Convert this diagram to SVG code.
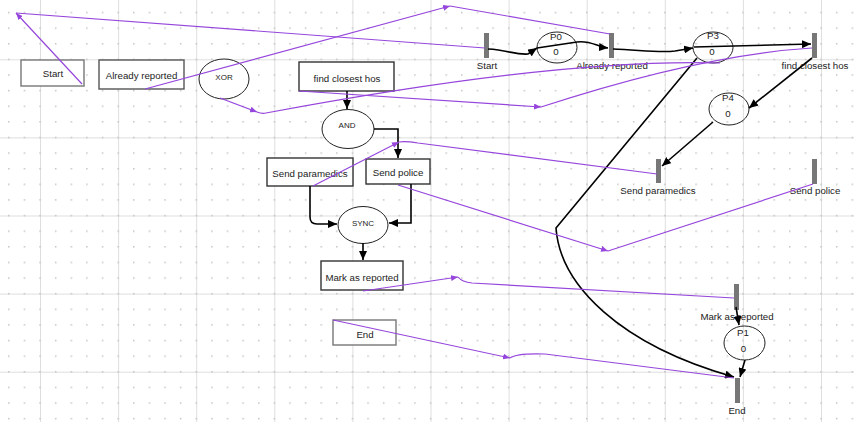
<svg xmlns="http://www.w3.org/2000/svg" width="854" height="422" viewBox="0 0 854 422">
<defs>
<pattern id="dots" patternUnits="userSpaceOnUse" x="39.3" y="58.6" width="15.62" height="15.62">
<rect x="0" y="0" width="1.5" height="1.5" fill="#c4c4c4"/>
</pattern>
<pattern id="lines" patternUnits="userSpaceOnUse" x="40" y="59.3" width="78.1" height="78.1">
<path d="M0.5,0 V78.1 M0,0.5 H78.1" stroke="#dedede" stroke-width="1" fill="none"/>
</pattern>
<marker id="ab" markerUnits="userSpaceOnUse" markerWidth="10" markerHeight="8" refX="9" refY="4" orient="auto">
<path d="M0,0 L9,4 L0,8 Z" fill="#000"/>
</marker>
<marker id="ap" markerUnits="userSpaceOnUse" markerWidth="8" markerHeight="6" refX="7" refY="3" orient="auto">
<path d="M0,0 L7,3 L0,6 Z" fill="#9646dc"/>
</marker>
<style>
text{font-family:"Liberation Sans",Arial,sans-serif;font-size:9.7px;fill:#222;text-anchor:middle}
.g{font-size:8px}
.box{fill:#fff;stroke:#333;stroke-width:1.4}
.lt{stroke:#777}
.pl{fill:none;stroke:#222;stroke-width:1}
.gate{fill:#fff;stroke:#222;stroke-width:1}
.tr{fill:#777}
.blk{fill:none;stroke:#000;stroke-width:1.6}
.pur{fill:none;stroke:#9646dc;stroke-width:1.2}
</style>
</defs>
<rect width="854" height="422" fill="#fff"/>
<rect width="854" height="422" fill="url(#lines)"/>
<rect width="854" height="422" fill="url(#dots)"/>

<g id="wf-start"><rect class="box lt" x="21" y="60" width="63" height="26"/><text x="53" y="77">Start</text></g>
<g id="wf-already"><rect class="box" x="99" y="60" width="85" height="29" style="stroke:#555"/><text x="141.5" y="79">Already reported</text></g>
<g id="wf-xor"><ellipse class="gate" cx="224" cy="79" rx="25" ry="20"/><text class="g" x="224" y="80">XOR</text></g>
<g id="wf-find"><rect class="box" x="299" y="62" width="95" height="29"/><text x="347" y="81.5">find closest hos</text></g>
<g id="wf-and"><ellipse class="gate" cx="348" cy="129" rx="26" ry="19.5"/><text class="g" x="347" y="128">AND</text></g>
<g id="wf-paramedics"><rect class="box" x="267" y="158" width="86" height="28"/><text x="310" y="176.5">Send paramedics</text></g>
<g id="wf-police"><rect class="box" x="366" y="159" width="64" height="25"/><text x="398" y="176">Send police</text></g>
<g id="wf-sync"><ellipse class="gate" cx="363" cy="225" rx="25" ry="18.5"/><text class="g" x="363" y="226">SYNC</text></g>
<g id="wf-mark"><rect class="box" x="321" y="261" width="82" height="29"/><text x="362" y="280.5">Mark as reported</text></g>
<g id="wf-end"><rect class="box lt" x="333" y="320" width="63" height="25"/><text x="365" y="337.5">End</text></g>

<g id="pn-t-start"><rect class="tr" x="484" y="33" width="5" height="25"/><text x="487" y="69">Start</text></g>
<g id="pn-p0"><ellipse class="pl" cx="557" cy="47.5" rx="20" ry="15.5"/><text x="556" y="39.5">P0</text><text x="556" y="55">0</text></g>
<g id="pn-t-already"><rect class="tr" x="609" y="33" width="5" height="25"/><text x="612" y="69">Already reported</text></g>
<g id="pn-p3"><ellipse class="pl" cx="713" cy="47.5" rx="20" ry="15.5"/><text x="713" y="38.5">P3</text><text x="712" y="55">0</text></g>
<g id="pn-t-find"><rect class="tr" x="812" y="33" width="5" height="25"/><text x="815" y="69">find closest hos</text></g>
<g id="pn-p4"><ellipse class="pl" cx="729" cy="109" rx="20" ry="16"/><text x="728" y="100.5">P4</text><text x="728" y="116.5">0</text></g>
<g id="pn-t-paramedics"><rect class="tr" x="656" y="159" width="5" height="24"/><text x="658" y="194">Send paramedics</text></g>
<g id="pn-t-police"><rect class="tr" x="812" y="159" width="5" height="25"/><text x="815" y="194">Send police</text></g>
<g id="pn-t-mark"><rect class="tr" x="734" y="284" width="5" height="26"/><text x="737" y="319.5">Mark as reported</text></g>
<g id="pn-p1"><ellipse class="pl" cx="744.5" cy="343" rx="20.5" ry="17"/><text x="743" y="336">P1</text><text x="743.5" y="351.5">0</text></g>
<g id="pn-t-end"><rect class="tr" x="735" y="378" width="5" height="25"/><text x="737" y="413.5">End</text></g>

<g id="connectors">
<path class="blk" d="M347,91 L347,109" marker-end="url(#ab)"/>
<path class="blk" d="M374,129 L398,129 L398,158" marker-end="url(#ab)"/>
<path class="blk" d="M310,186 L310,217 Q310,224 317,224 L337,224" marker-end="url(#ab)"/>
<path class="blk" d="M411,184 L411,223 L389,223" marker-end="url(#ab)"/>
<path class="blk" d="M363,243 L363,260" marker-end="url(#ab)"/>

<path class="blk" d="M488,49 C508,50 515,55 528,54 L537,48" marker-end="url(#ab)"/>
<path class="blk" d="M537,48 L577,42 C590,40 598,47 608,48" marker-end="url(#ab)"/>
<path class="blk" d="M613,49 C640,50 660,53 675,51 L693,48" marker-end="url(#ab)"/>
<path class="blk" d="M694,47 L811,44" marker-end="url(#ab)"/>
<path class="blk" d="M812,58 L749,108" marker-end="url(#ab)"/>
<path class="blk" d="M713,122 L662,166" marker-end="url(#ab)"/>
<path class="blk" d="M697,58 L556,228 C560,285 620,345 734,377" marker-end="url(#ab)"/>
<path class="blk" d="M736,307 L739,325" marker-end="url(#ab)"/>
<path class="blk" d="M745,360 L740,377" marker-end="url(#ab)"/>

<path class="pur" d="M82,84 L16,13" marker-end="url(#ap)"/>
<path class="pur" d="M16,13 L485,48"/>
<path class="pur" d="M145,89 L450,6" marker-end="url(#ap)"/>
<path class="pur" d="M450,6 L610,34"/>
<path class="pur" d="M220,98 L257,112" marker-end="url(#ap)"/>
<path class="pur" d="M257,112 Q262,114 266,113 Q560,58 720,63"/>
<path class="pur" d="M299,91 L541,107" marker-end="url(#ap)"/>
<path class="pur" d="M541,107 Q700,55 812,48"/>
<path class="pur" d="M313,186 L399,142" marker-end="url(#ap)"/>
<path class="pur" d="M399,142 Q405,141 418,143 L657,174"/>
<path class="pur" d="M398,185 L608,251" marker-end="url(#ap)"/>
<path class="pur" d="M608,251 L813,184"/>
<path class="pur" d="M363,291 L458,277" marker-end="url(#ap)"/>
<path class="pur" d="M458,277 Q462,282 472,283 L734,298"/>
<path class="pur" d="M333,320 L510,358" marker-end="url(#ap)"/>
<path class="pur" d="M510,358 Q517,353 545,354 L734,378"/>
</g>
</svg>
